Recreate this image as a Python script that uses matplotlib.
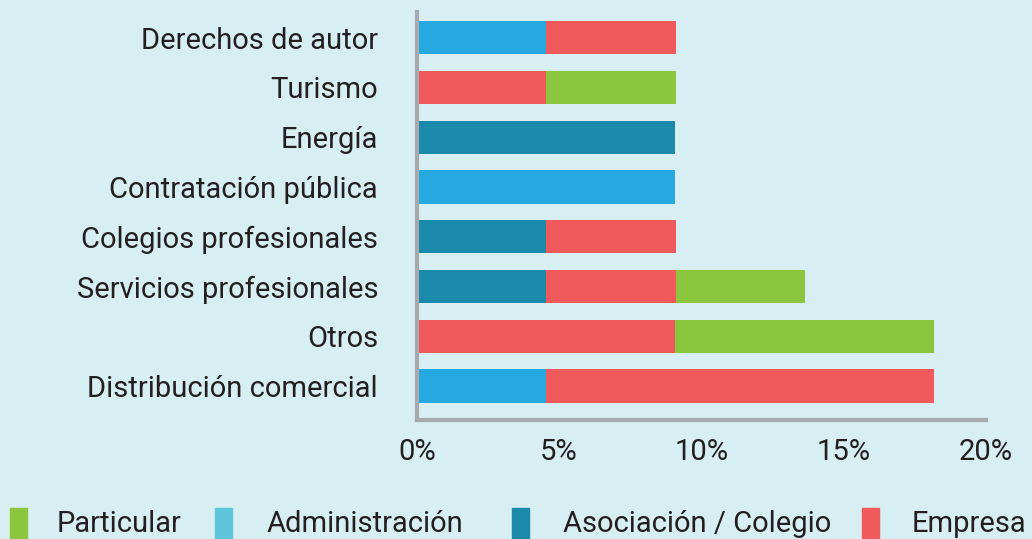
import matplotlib.pyplot as plt
import numpy as np
from matplotlib.patches import Rectangle

plt.rcParams['font.family'] = ['Roboto', 'DejaVu Sans']

# categories, bottom to top
categories = ["Distribución comercial", "Otros", "Servicios profesionales",
              "Colegios profesionales", "Contratación pública", "Energía",
              "Turismo", "Derechos de autor"]

# shares in %
administracion = [4.55, 0, 0, 0, 9.09, 0, 0, 4.55]
asociacion = [0, 0, 4.55, 4.55, 0, 9.09, 0, 0]
empresa = [13.64, 9.09, 4.55, 4.55, 0, 0, 4.55, 4.55]
particular = [0, 9.09, 4.55, 0, 0, 0, 4.55, 0]

xticks = [0, 5, 10, 15, 20]
xtick_labels = ["0%", "5%", "10%", "15%", "20%"]

legend_labels = ["Particular", "Administración", "Asociación / Colegio", "Empresa"]

bg = "#D7EEF2"
c_adm = "#25A9E0"
c_adm_legend = "#5EC6DB"
c_aso = "#1A89AA"
c_emp = "#F05A5C"
c_par = "#8CC63F"
txt = "#231F20"

W, H = 1032, 539
fig = plt.figure(figsize=(W / 100, H / 100), dpi=100, facecolor=bg)
ax = fig.add_axes([0.404, 0.221, 0.551, 0.757])
ax.set_facecolor(bg)

y = np.arange(len(categories))
h = 0.67
left = np.zeros(len(categories))
for vals, col in [(administracion, c_adm), (asociacion, c_aso),
                  (empresa, c_emp), (particular, c_par)]:
    ax.barh(y, vals, left=left, height=h, color=col, linewidth=0)
    left += np.array(vals)

ax.set_xlim(0, 20)
ax.set_ylim(-0.68, 7.52)
ax.set_yticks(y)
ax.set_yticklabels(categories, fontsize=21, color=txt)
ax.set_xticks(xticks)
ax.set_xticklabels(xtick_labels, fontsize=21, color=txt)
ax.tick_params(length=0)
ax.tick_params(axis='y', pad=28)
ax.tick_params(axis='x', pad=13)

for s in ['top', 'right']:
    ax.spines[s].set_visible(False)
for s in ['left', 'bottom']:
    ax.spines[s].set_color("#A7A9AC")
    ax.spines[s].set_linewidth(3)

# legend, laid out by hand like the original (pixel positions)
leg_colors = [c_par, c_adm_legend, c_aso, c_emp]
patch_x = [10, 215, 512, 862]
text_x = [57, 267, 563, 912]
for lab, col, px, tx in zip(legend_labels, leg_colors, patch_x, text_x):
    fig.patches.append(Rectangle((px / W, 0), 17 / W, 31 / H, color=col,
                                 transform=fig.transFigure, figure=fig))
    fig.text(tx / W, 1 - 524 / H, lab, fontsize=21, color=txt,
             ha='left', va='center')

fig.savefig("out.png", dpi=100, facecolor=bg)
